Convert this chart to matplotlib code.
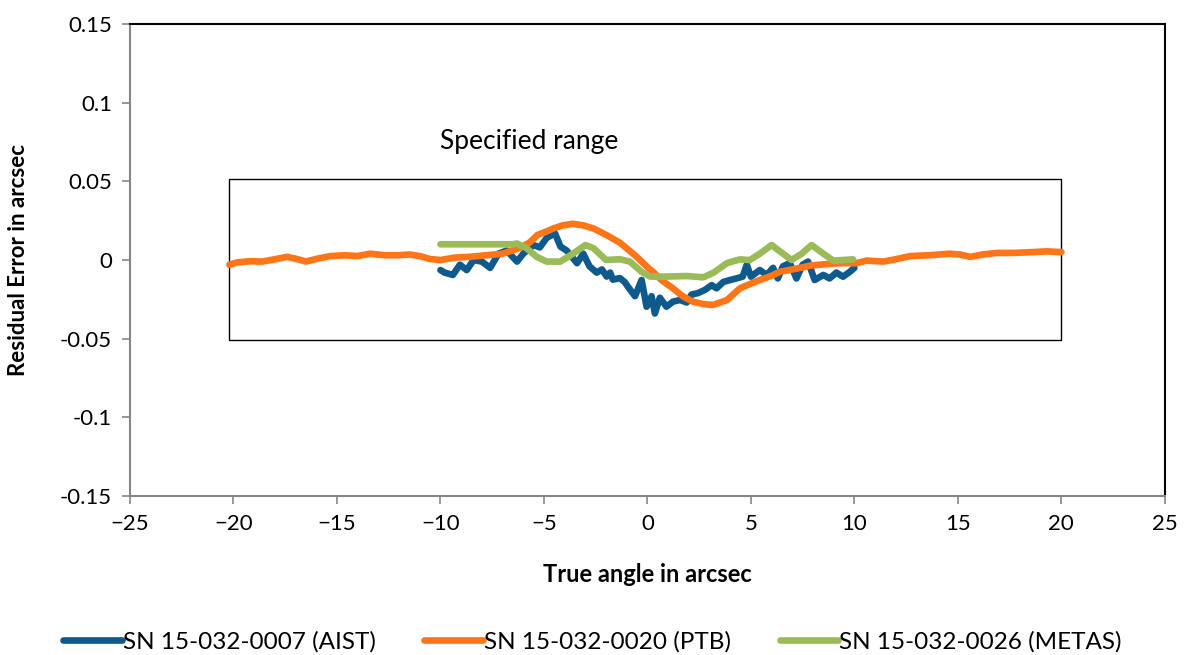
import matplotlib.pyplot as plt
from matplotlib.patches import Rectangle

plt.rcParams['font.family'] = ['Lato', 'DejaVu Sans']

# AIST residuals (arcsec)
aist_x = [-10.0, -9.8, -9.4, -9.06, -8.73, -8.4, -8.0, -7.6, -7.2, -6.8, -6.3, -6.0,
          -5.5, -5.2, -4.87, -4.47, -4.2, -3.9, -3.4, -3.1, -2.8, -2.45, -2.2, -1.97,
          -1.8, -1.67, -1.33, -1.1, -0.94, -0.6, -0.28, -0.04, 0.2, 0.36, 0.6, 0.92,
          1.23, 1.57, 1.9, 2.13, 2.45, 2.78, 3.1, 3.34, 3.66, 4.0, 4.3, 4.6, 4.8, 5.0,
          5.43, 5.76, 6.07, 6.3, 6.55, 6.88, 7.2, 7.5, 7.76, 8.08, 8.5, 8.8, 9.13,
          9.45, 9.78, 10.0]
aist_y = [-0.0064, -0.008, -0.0095, -0.003, -0.0064, 0.0, -0.001, -0.005, 0.004, 0.006,
          -0.001, 0.004, 0.0095, 0.008, 0.014, 0.017, 0.0085, 0.006, -0.002, 0.004,
          -0.004, -0.008, -0.006, -0.0105, -0.008, -0.0125, -0.0115, -0.014, -0.017,
          -0.023, -0.0127, -0.0297, -0.023, -0.034, -0.024, -0.0297, -0.0265, -0.0254,
          -0.027, -0.022, -0.021, -0.019, -0.016, -0.018, -0.014, -0.0127, -0.0117,
          -0.0106, -0.003, -0.0106, -0.0064, -0.0095, -0.005, -0.0117, -0.004, -0.002,
          -0.0117, -0.003, -0.001, -0.0127, -0.0095, -0.0117, -0.008, -0.0106, -0.0075,
          -0.005]

# PTB residuals (arcsec)
ptb_x = [-20.2, -19.8, -19.2, -18.6, -18.0, -17.4, -16.9, -16.5, -15.9, -15.3, -14.6,
         -14.0, -13.4, -12.7, -12.0, -11.5, -11.0, -10.5, -10.0, -9.3, -8.6, -7.8,
         -7.0, -6.2, -5.7, -5.3, -4.9, -4.55, -4.1, -3.6, -3.1, -2.6, -2.0, -1.33,
         -0.6, 0.12, 0.27, 0.7, 1.23, 1.7, 2.2, 2.7, 3.16, 3.84, 4.47, 5.0, 5.43,
         6.0, 6.4, 7.0, 7.37, 7.9, 8.33, 8.8, 9.3, 10.1, 10.6, 11.4, 12.0, 12.7,
         13.6, 14.6, 15.1, 15.6, 16.2, 16.9, 17.7, 18.6, 19.3, 20.0]
ptb_y = [-0.003, -0.0015, -0.0008, -0.001, 0.0005, 0.002, 0.0005, -0.001, 0.001, 0.0025,
         0.003, 0.0025, 0.004, 0.003, 0.003, 0.0035, 0.0025, 0.0006, 0.0, 0.0015,
         0.002, 0.003, 0.004, 0.0075, 0.011, 0.016, 0.018, 0.020, 0.022, 0.023,
         0.022, 0.020, 0.016, 0.011, 0.003, -0.006, -0.0075, -0.013, -0.018, -0.023,
         -0.0265, -0.028, -0.0286, -0.0255, -0.018, -0.015, -0.0127, -0.010, -0.0075,
         -0.006, -0.005, -0.0035, -0.003, -0.0025, -0.002, -0.002, -0.0004, -0.001,
         0.0005, 0.0025, 0.003, 0.004, 0.0035, 0.002, 0.0035, 0.0045, 0.0045, 0.005,
         0.0055, 0.005]

# METAS residuals (arcsec)
metas_x = [-10.0, -9.0, -8.0, -7.0, -6.5, -6.3, -5.84, -5.35, -4.87, -4.2, -3.6, -3.0,
           -2.6, -2.0, -1.33, -0.85, -0.28, 0.12, 0.6, 1.9, 2.7, 3.2, 3.84, 4.47, 4.95,
           5.43, 6.0, 6.55, 6.96, 7.45, 7.93, 8.5, 8.98, 9.94]
metas_y = [0.010, 0.010, 0.010, 0.010, 0.010, 0.0105, 0.0075, 0.002, -0.001, -0.001,
           0.004, 0.0095, 0.0075, 0.0, 0.0005, -0.001, -0.0075, -0.0105, -0.0106,
           -0.0102, -0.011, -0.008, -0.002, 0.0004, 0.0, 0.004, 0.0095, 0.004, 0.0,
           0.004, 0.0095, 0.004, -0.0004, 0.0004]

# specified range box: x from, x to, y from, y to
range_x = [-20.2, 20.0]
range_y = [-0.051, 0.0515]

fig = plt.figure(figsize=(11.85, 6.55), dpi=100)
ax = fig.add_axes([0.1097, 0.2427, 0.8733, 0.7207])

ax.plot(aist_x, aist_y, color='#0F5A8C', lw=4.8, solid_capstyle='round',
        solid_joinstyle='round', label='SN 15-032-0007 (AIST)', zorder=3)
ax.plot(ptb_x, ptb_y, color='#FF7518', lw=4.8, solid_capstyle='round',
        solid_joinstyle='round', label='SN 15-032-0020 (PTB)', zorder=4)
ax.plot(metas_x, metas_y, color='#9BBB59', lw=4.8, solid_capstyle='round',
        solid_joinstyle='round', label='SN 15-032-0026 (METAS)', zorder=5)

ax.add_patch(Rectangle((range_x[0], range_y[0]), range_x[1] - range_x[0],
                       range_y[1] - range_y[0], fill=False, ec='black', lw=1, zorder=2))
ax.text(-10.0, 0.0755, 'Specified range', fontsize=19, va='center', ha='left')

ax.set_xlim(-25, 25)
ax.set_ylim(-0.15, 0.15)
ax.set_xticks(range(-25, 30, 5))
ax.set_yticks([-0.15, -0.1, -0.05, 0, 0.05, 0.1, 0.15])
ax.set_yticklabels(['-0.15', '-0.1', '-0.05', '0', '0.05', '0.1', '0.15'])
ax.tick_params(axis='both', direction='out', length=6, width=1.2, color='#868686',
               labelsize=16, pad=7)

for side in ['left', 'bottom']:
    ax.spines[side].set_color('#868686')
    ax.spines[side].set_linewidth(1.5)
for side in ['top', 'right']:
    ax.spines[side].set_color('black')
    ax.spines[side].set_linewidth(1.5)

ax.set_xlabel('True angle in arcsec', fontsize=17, fontweight='bold', labelpad=21)
ax.set_ylabel('Residual Error in arcsec', fontsize=16, fontweight='bold', labelpad=22)

fig.legend(loc='lower center', bbox_to_anchor=(0.5, -0.03), ncol=3, frameon=False,
           fontsize=17.5, handlelength=2.4, handletextpad=0.05, columnspacing=2.0)

fig.savefig('out.png', dpi=100, facecolor='white')
